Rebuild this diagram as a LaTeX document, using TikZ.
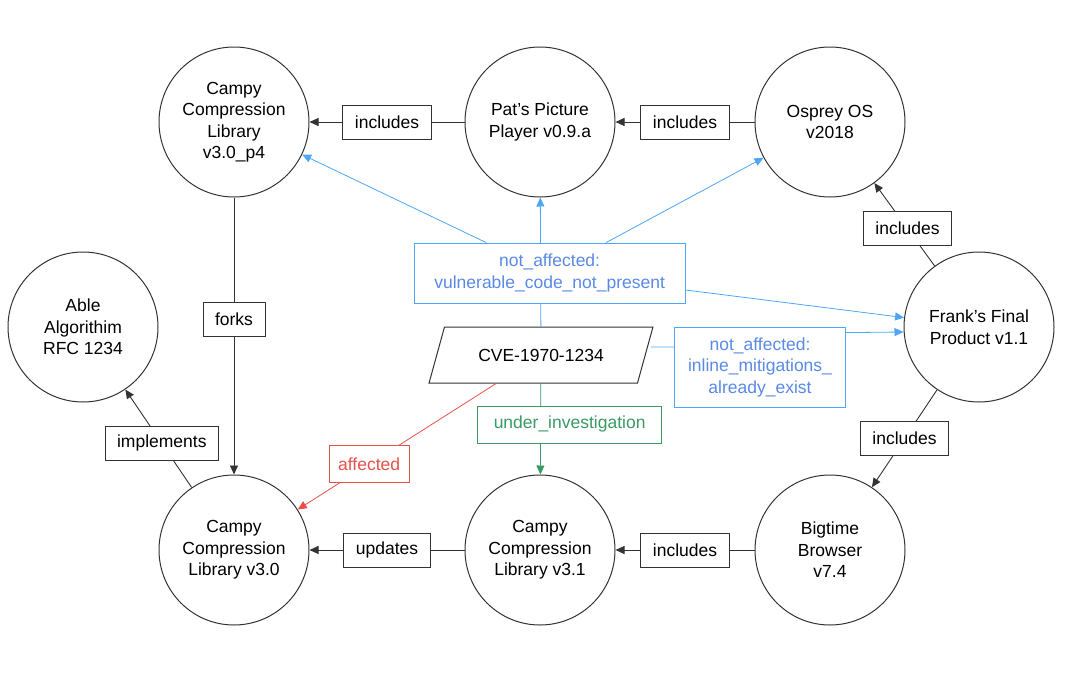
\documentclass[tikz,border=0pt]{standalone}
\usepackage{fontspec}
\setmainfont{Liberation Sans}
\usepackage{tikz}
\usetikzlibrary{shapes.geometric, arrows.meta, positioning}
\definecolor{naline}{HTML}{4DA6F7}
\definecolor{natext}{HTML}{5A8AE6}
\definecolor{affred}{HTML}{E8514A}
\definecolor{uigreen}{HTML}{3A9A64}
\definecolor{edgegray}{HTML}{333333}

\begin{document}
\begin{tikzpicture}[x=1pt, y=-1pt, font=\fontsize{17.5}{21.5}\selectfont]
		\tikzstyle{product} = [circle, minimum size=150pt, inner sep=0pt, align=center, draw=edgegray, line width=1pt]
		\tikzstyle{rel} = [rectangle, draw=edgegray, fill=white, line width=0.9pt, minimum height=34pt, inner xsep=12pt, inner ysep=0pt]
		\tikzstyle{status} = [rectangle, fill=white, line width=0.8pt, align=center, inner sep=0pt]
		\tikzstyle{line} = [draw=edgegray, line width=0.9pt, -{Triangle[length=9pt,width=8pt]}]
		\tikzstyle{naline} = [draw=naline, line width=0.8pt, -{Triangle[length=9pt,width=8pt]}]
		\useasboundingbox (0,0) rectangle (1090,688);

		% products
		\node (cpfour) [product] at (234,122) {Campy\\Compression\\Library\\v3.0\_p4};
		\node (pats) [product] at (540,122) {Pat’s Picture\\Player v0.9.a};
		\node (osprey) [product] at (830,122) {Osprey OS\\v2018};
		\node (able) [product] at (83,327) {Able\\Algorithim\\RFC 1234};
		\node (frank) [product] at (979,327) {Frank’s Final\\Product v1.1};
		\node (v30) [product] at (234,550) {Campy\\Compression\\Library v3.0};
		\node (v31) [product] at (540,550) {Campy\\Compression\\Library v3.1};
		\node (bigtime) [product] at (830,550) {Bigtime\\Browser\\v7.4};

		% vulnerability
		\node (cve) [trapezium, trapezium left angle=51, trapezium right angle=129, trapezium stretches=true, minimum width=224pt, minimum height=56pt, inner sep=0pt, draw=edgegray, line width=1pt] at (541,355) {CVE-1970-1234};
		\node (inl) [status, draw=naline, text=natext, minimum width=171pt, minimum height=80pt] at (760,367) {not\_affected:\\inline\_mitigations\_\\already\_exist};

		% relationships
		\path [line] (pats) -- node[rel] {includes} (cpfour);
		\path [line] (osprey) -- node[rel] {includes} (pats);
		\path [line] (frank) -- node[rel, pos=0.45] {includes} (osprey);
		\path [line] (frank) -- node[rel] {includes} (bigtime);
		\path [line] (bigtime) -- node[rel] {includes} (v31);
		\path [line] (v31) -- node[rel] {updates} (v30);
		\path [line] (cpfour) -- node[rel, pos=0.44] {forks} (v30);
		\path [line] (v30) -- node[rel, pos=0.45] {implements} (able);

		% status
		\path [naline] (cve) -- node[status, draw=naline, text=natext, pos=0.415, xshift=9pt, minimum width=271pt, minimum height=60pt] (na1) {not\_affected:\\vulnerable\_code\_not\_present} (pats);
		\path [naline] (na1) -- (cpfour);
		\path [naline] (na1) -- (osprey);
		\path [naline] (na1) -- (frank);
		\path [draw=naline, line width=0.8pt] ([yshift=20pt]inl.west) -- ([xshift=5pt,yshift=8pt]cve.east);
		\path [naline] ([yshift=-6pt]inl.north east) -- ([yshift=-5pt]frank.west);
		\path [draw=uigreen, line width=0.8pt, -{Triangle[length=9pt,width=8pt]}] (cve) -- node[status, draw=uigreen, text=uigreen, pos=0.45, xshift=29pt, minimum width=184pt, minimum height=37pt] {under\_investigation} (v31);
		\path [draw=affred, line width=0.8pt, -{Triangle[length=9pt,width=8pt]}] (cve) -- node[status, draw=affred, text=affred, pos=0.64, minimum width=80pt, minimum height=37pt] {affected} (v30);

	\end{tikzpicture}
\end{document}
